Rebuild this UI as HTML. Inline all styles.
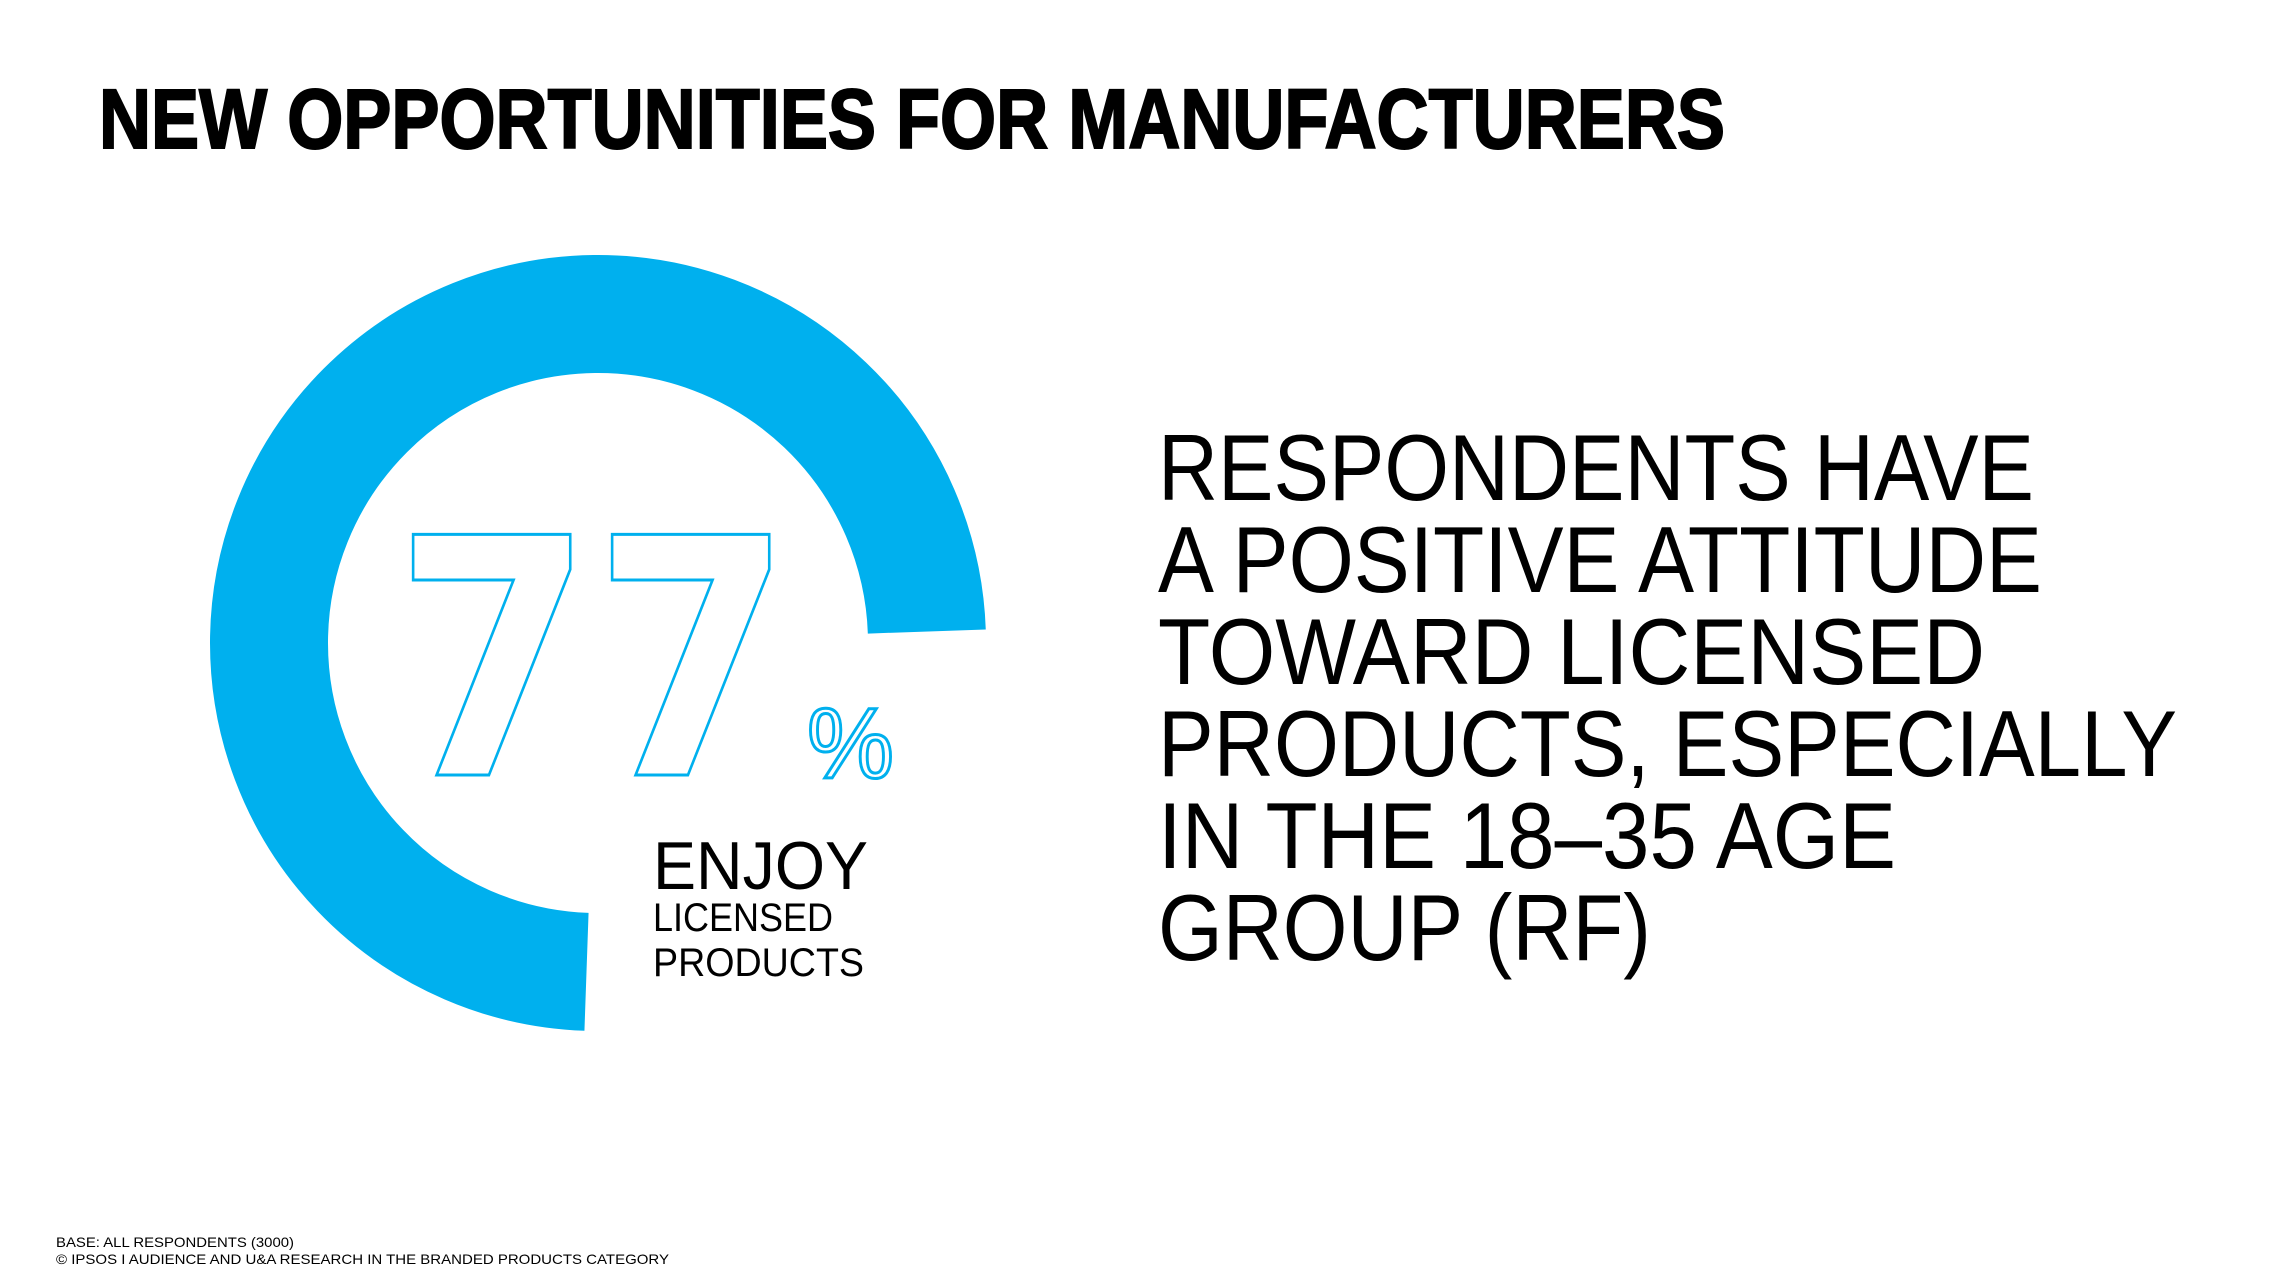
<!DOCTYPE html>
<html><head><meta charset="utf-8"><style>html,body{margin:0;padding:0;background:#fff;}svg{display:block;}</style></head>
<body>
<svg width="2270" height="1277" viewBox="0 0 2270 1277" xmlns="http://www.w3.org/2000/svg" font-family="Liberation Sans, sans-serif">
<rect width="2270" height="1277" fill="#fff"/>
<text x="99" y="148" font-size="84" font-weight="bold" fill="#000" stroke="#000" stroke-width="2" textLength="1626" lengthAdjust="spacingAndGlyphs">NEW OPPORTUNITIES FOR MANUFACTURERS</text>
<path d="M926.8,631.5 A329,329 0 1 0 586.5,971.8" fill="none" stroke="#00b0ee" stroke-width="118"/>
<text x="394" y="775" font-size="330" font-family="DejaVu Sans, sans-serif" font-weight="bold" fill="none" stroke="#00b0ee" stroke-width="3" textLength="398" lengthAdjust="spacingAndGlyphs">77</text>
<text x="807" y="778" font-size="100" fill="none" stroke="#00b0ee" stroke-width="3" textLength="87" lengthAdjust="spacingAndGlyphs">%</text>
<text x="653" y="889" font-size="68" fill="#000" textLength="215" lengthAdjust="spacingAndGlyphs">ENJOY</text>
<text x="653" y="931" font-size="40" fill="#000" textLength="180" lengthAdjust="spacingAndGlyphs">LICENSED</text>
<text x="653" y="976" font-size="40" fill="#000" textLength="211" lengthAdjust="spacingAndGlyphs">PRODUCTS</text>
<g font-size="94" fill="#000">
<text x="1158" y="500" textLength="876" lengthAdjust="spacingAndGlyphs">RESPONDENTS HAVE</text>
<text x="1158" y="592" textLength="884" lengthAdjust="spacingAndGlyphs">A POSITIVE ATTITUDE</text>
<text x="1158" y="684" textLength="827" lengthAdjust="spacingAndGlyphs">TOWARD LICENSED</text>
<text x="1158" y="776" textLength="1019" lengthAdjust="spacingAndGlyphs">PRODUCTS, ESPECIALLY</text>
<text x="1158" y="868" textLength="738" lengthAdjust="spacingAndGlyphs">IN THE 18–35 AGE</text>
<text x="1158" y="960" textLength="493" lengthAdjust="spacingAndGlyphs">GROUP (RF)</text>
</g>
<text x="56" y="1247" font-size="14" fill="#000" textLength="238" lengthAdjust="spacingAndGlyphs">BASE: ALL RESPONDENTS (3000)</text>
<text x="56" y="1264" font-size="14" fill="#000" textLength="613" lengthAdjust="spacingAndGlyphs">© IPSOS I AUDIENCE AND U&amp;A RESEARCH IN THE BRANDED PRODUCTS CATEGORY</text>
</svg>
</body></html>
